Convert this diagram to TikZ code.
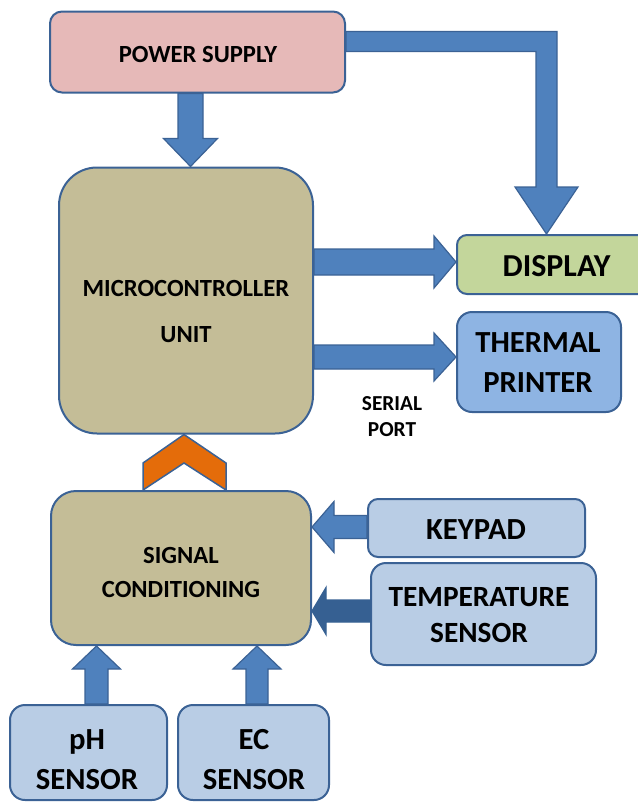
\documentclass[tikz,border=0pt]{standalone}
\usepackage{fontspec}
\setmainfont{Carlito}
\usetikzlibrary{calc}
\def\u{0.75pt}
\definecolor{bordc}{HTML}{3B6295}
\definecolor{psfill}{HTML}{E6B9B8}
\definecolor{mcufill}{HTML}{C4BD97}
\definecolor{dispfill}{HTML}{C3D69B}
\definecolor{prnfill}{HTML}{8EB4E3}
\definecolor{lightfill}{HTML}{B9CDE5}
\definecolor{arrfill}{HTML}{4F81BD}
\definecolor{arrdark}{HTML}{366092}
\definecolor{chevfill}{HTML}{E46C0A}
\newcommand\blockarrow[6]{%
  \coordinate (ba-h) at ($(#3)!#6*\u!(#2)$);
  \draw[#1] ($(#2)!#4*\u!90:(#3)$) -- ($(ba-h)!#4*\u!90:(#3)$) -- ($(ba-h)!#5*\u!90:(#3)$) -- (#3)
    -- ($(ba-h)!#5*\u!-90:(#3)$) -- ($(ba-h)!#4*\u!-90:(#3)$) -- ($(#2)!#4*\u!-90:(#3)$) -- cycle;
}
\tikzset{
  box/.style={draw=bordc, line width=2*\u, align=center, inner sep=0pt, font=\bfseries},
  smalltxt/.style={font=\bfseries\fontsize{18.5}{34}\selectfont},
  bigtxt/.style={font=\bfseries\fontsize{23}{30}\selectfont},
  arrowshape/.style={fill=arrfill, draw=bordc, line width=1.2*\u, line join=miter},
  darkarrow/.style={fill=arrdark, draw=arrdark, line width=1.2*\u},
}
\begin{document}
\begin{tikzpicture}[x=\u, y=-\u]
\useasboundingbox (0,0) rectangle (637,803);
% boxes
\node[box, fill=psfill, rounded corners=12*\u, minimum width=295*\u, minimum height=81*\u] (ps) at (197.5,52) {};
\node[smalltxt, anchor=center] (pstxt) at (198,55) {POWER SUPPLY};
\node[box, fill=mcufill, rounded corners=38*\u, minimum width=254*\u, minimum height=266*\u] (mcu) at (186,300.5) {};
\node[smalltxt, align=center] (mcutxt) at (186,311.5) {MICROCONTROLLER\\UNIT};
\node[box, fill=dispfill, rounded corners=10*\u, minimum width=198*\u, minimum height=59*\u] (disp) at (556,264.5) {};
\node[font=\bfseries\fontsize{24}{30}\selectfont] (disptxt) at (556.5,266) {DISPLAY};
\node[box, fill=prnfill, rounded corners=15*\u, minimum width=164*\u, minimum height=100*\u] (prn) at (539,362) {};
\node[bigtxt, align=center] (prntxt) at (538,363) {THERMAL\\PRINTER};
\node[font=\bfseries\fontsize{16}{20}\selectfont, align=center] (serial) at (392,416.5) {SERIAL\\PORT};
\node[box, fill=mcufill, rounded corners=25*\u, minimum width=260*\u, minimum height=154*\u] (sc) at (181,568) {};
\node[smalltxt, align=center, font=\bfseries\fontsize{18.5}{25}\selectfont] (sctxt) at (181,572.5) {SIGNAL\\CONDITIONING};
\node[box, fill=lightfill, rounded corners=10*\u, minimum width=217*\u, minimum height=58*\u] (key) at (476.5,528) {};
\node[bigtxt] (keytxt) at (476,530) {KEYPAD};
\node[box, fill=lightfill, rounded corners=15*\u, minimum width=225*\u, minimum height=102*\u] (temp) at (483.5,614) {};
\node[bigtxt, align=center, font=\bfseries\fontsize{22}{27}\selectfont] (temptxt) at (479,615) {TEMPERATURE\\SENSOR};
\node[box, fill=lightfill, rounded corners=15*\u, minimum width=157*\u, minimum height=95*\u] (ph) at (88.5,752.5) {};
\node[bigtxt, align=center] (phtxt) at (87,760) {pH\\SENSOR};
\node[box, fill=lightfill, rounded corners=15*\u, minimum width=151*\u, minimum height=95*\u] (ec) at (253.5,752.5) {};
\node[bigtxt, align=center] (ectxt) at (254,760) {EC\\SENSOR};
% connector end points
\coordinate (a1s) at (190.5,0 |- ps.south);
\coordinate (a1e) at (190.5,0 |- mcu.north);
\coordinate (a3s) at (mcu.east |- 0,262);
\coordinate (a3e) at (disp.west |- 0,262);
\coordinate (a4s) at (mcu.east |- 0,357);
\coordinate (a4e) at (prn.west |- 0,357);
\coordinate (a5s) at (key.west |- 0,527);
\coordinate (a5e) at (sc.east |- 0,527);
\coordinate (a6s) at (temp.west |- 0,611);
\coordinate (a6e) at (sc.east |- 0,611);
\coordinate (a7s) at (96.5,0 |- ph.north);
\coordinate (a7e) at (96.5,0 |- sc.south);
\coordinate (a8s) at (257,0 |- ec.north);
\coordinate (a8e) at (257,0 |- sc.south);
% block arrows
\blockarrow{arrowshape}{a1s}{a1e}{12.5}{27}{28}
\blockarrow{arrowshape}{a3s}{a3e}{13}{26}{22}
\blockarrow{arrowshape}{a4s}{a4e}{12}{24}{22}
\blockarrow{arrowshape}{a5s}{a5e}{11.5}{25.5}{22}
\blockarrow{darkarrow}{a6s}{a6e}{11}{23.5}{14}
\blockarrow{arrowshape}{a7s}{a7e}{11.5}{24}{23}
\blockarrow{arrowshape}{a8s}{a8e}{11}{24}{23}
% L-shaped arrow power supply -> display
\draw[arrowshape] (ps.east |- 0,31.5) -- (557,31.5) -- (557,187) -- (578,187)
  -- (546.5,0 |- disp.north) -- (515,187) -- (536,187) -- (536,51.5) -- (ps.east |- 0,51.5) -- cycle;
% orange chevron signal conditioning -> microcontroller
\draw[fill=chevfill, draw=bordc, line width=1.5*\u, line join=miter]
  (143,0 |- sc.north) -- (143,463) -- (184,0 |- mcu.south) -- (226,463) -- (226,0 |- sc.north) -- (184,463) -- cycle;
\end{tikzpicture}
\end{document}
